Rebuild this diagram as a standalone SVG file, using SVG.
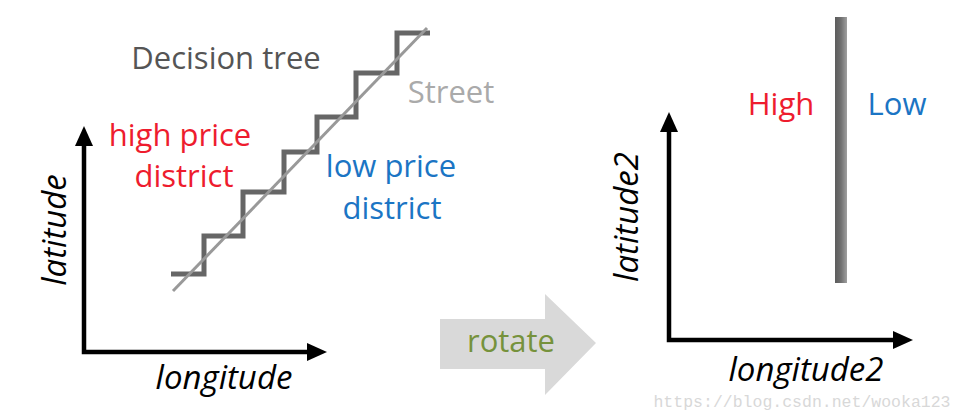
<svg xmlns="http://www.w3.org/2000/svg" width="964" height="420" viewBox="0 0 964 420">
  <style>
    .t { font-family: "Open Sans", "Liberation Sans", sans-serif; font-size: 31px; }
    .ax { font-family: "Open Sans", "Liberation Sans", sans-serif; font-size: 33px; font-style: italic; fill: #000; }
    .axis { fill: none; stroke: #000; stroke-width: 4.5; stroke-linejoin: miter; }
    .red { fill: #ee1c2e; }
    .blue { fill: #1b75c4; }
  </style>
  <defs>
    <marker id="ah" viewBox="0 0 20 18" refX="12" refY="9" markerWidth="20" markerHeight="18" markerUnits="userSpaceOnUse" orient="auto-start-reverse">
      <path d="M0,0 L20,9 L0,18 Z" fill="#000"/>
    </marker>
    <linearGradient id="bar" x1="0" y1="0" x2="1" y2="0">
      <stop offset="0" stop-color="#5c5c5c"/>
      <stop offset="0.5" stop-color="#707070"/>
      <stop offset="1" stop-color="#a0a0a0"/>
    </linearGradient>
  </defs>
  <rect width="964" height="420" fill="#fff"/>

  <g id="left-plot">
    <path class="axis" d="M84,134 V352 H319" marker-start="url(#ah)" marker-end="url(#ah)"/>
    <text class="ax" transform="translate(66,230) rotate(-90)" text-anchor="middle">latitude</text>
    <text class="ax" x="224" y="389" text-anchor="middle">longitude</text>
  </g>

  <g id="decision-tree">
    <path d="M171,274 H204 V236 H243 V192 H284 V152 H317 V117 H356 V73 H397 V33 H430" fill="none" stroke="#666" stroke-width="5"/>
    <text class="t" x="226" y="69" text-anchor="middle" fill="#555">Decision tree</text>
  </g>

  <g id="street">
    <line x1="173" y1="291" x2="427" y2="28" stroke="#999" stroke-width="3"/>
    <text class="t" x="451" y="103" text-anchor="middle" fill="#aaa">Street</text>
  </g>

  <g id="high-price">
    <text class="t red" x="180" y="146" text-anchor="middle">high price</text>
    <text class="t red" x="184" y="187" text-anchor="middle">district</text>
  </g>

  <g id="low-price">
    <text class="t blue" x="391" y="177" text-anchor="middle">low price</text>
    <text class="t blue" x="392" y="219" text-anchor="middle">district</text>
  </g>

  <g id="rotate">
    <path d="M440,319 H545 V294 L596,343 L545,395 V369 H440 Z" fill="#d9d9d9"/>
    <text class="t" x="511" y="352" text-anchor="middle" fill="#76923c">rotate</text>
  </g>

  <g id="right-plot">
    <path class="axis" d="M669,120 V340 H905" marker-start="url(#ah)" marker-end="url(#ah)"/>
    <text class="ax" transform="translate(638,217) rotate(-90)" text-anchor="middle">latitude2</text>
    <text class="ax" x="806" y="381" text-anchor="middle">longitude2</text>
  </g>

  <g id="boundary">
    <rect x="835" y="17" width="12" height="266" fill="url(#bar)"/>
    <text class="t red" x="781" y="115" text-anchor="middle">High</text>
    <text class="t blue" x="897" y="115" text-anchor="middle">Low</text>
  </g>

  <text x="802" y="407" text-anchor="middle" font-family="Liberation Mono, monospace" font-size="16.5" fill="#d8d8d8">https://blog.csdn.net/wooka123</text>
</svg>
